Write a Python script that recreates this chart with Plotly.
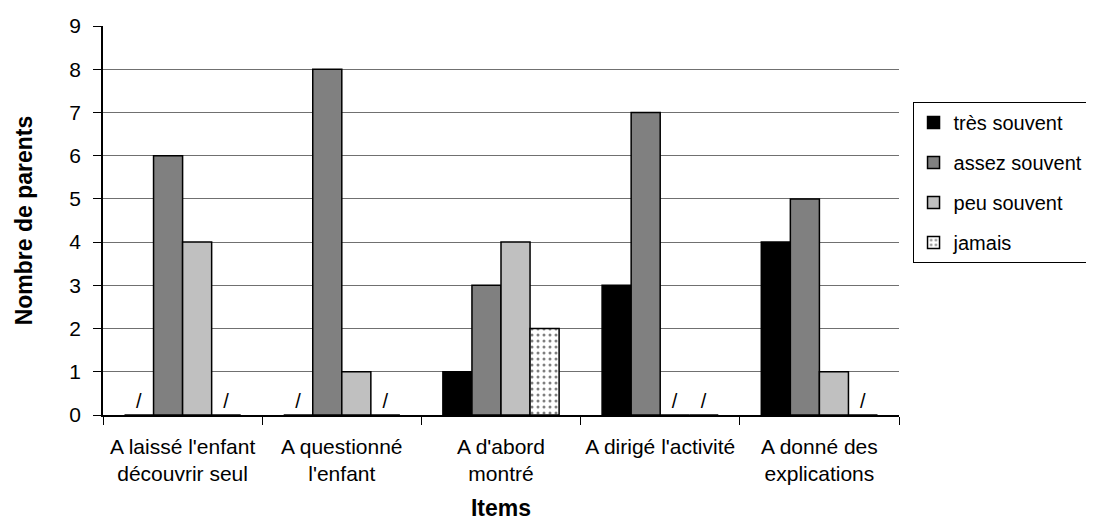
import plotly.graph_objects as go

items = ["A laissé l'enfant<br>découvrir seul", "A questionné<br>l'enfant", "A d'abord<br>montré",
         "A dirigé l'activité", "A donné des<br>explications"]
tres_souvent = [0, 0, 1, 3, 4]
assez_souvent = [6, 8, 3, 7, 5]
peu_souvent = [4, 1, 4, 0, 1]
jamais = [0, 0, 2, 0, 0]

FONT = "Liberation Sans, Arial, sans-serif"

series = [("très souvent", tres_souvent, dict(color="#000000")),
          ("assez souvent", assez_souvent, dict(color="#808080")),
          ("peu souvent", peu_souvent, dict(color="#c0c0c0")),
          ("jamais", jamais, dict(color="#ffffff",
                                  pattern=dict(shape=".", fgcolor="#000000", bgcolor="#ffffff",
                                               size=6, solidity=0.2)))]

fig = go.Figure()
for name, values, marker in series:
    # the source sheet marks empty cells with a "/" just above the baseline
    fig.add_trace(go.Bar(x=items,
                         y=values,
                         name=name,
                         legendgroup=name,
                         marker=dict(line=dict(color="#000000", width=1.5), **marker),
                         text=["/" if v == 0 else "" for v in values],
                         textposition="outside",
                         textfont=dict(size=20, color="#000000", family=FONT),
                         cliponaxis=False))

fig.update_layout(width=1094,
                  height=525,
                  barmode="group",
                  bargap=0.27,
                  bargroupgap=0,
                  plot_bgcolor="white",
                  paper_bgcolor="white",
                  font=dict(family=FONT, size=21, color="#000000"),
                  margin=dict(l=95, r=203, t=18, b=118, autoexpand=False),
                  showlegend=True,
                  legend=dict(x=1.017, y=0.8046, xanchor="left", yanchor="top",
                              bordercolor="#000000", borderwidth=1, bgcolor="white",
                              font=dict(size=20), tracegroupgap=11,
                              itemclick=False))

fig.update_xaxes(showline=True, linecolor="#000000", linewidth=1.5,
                 ticks="outside", tickson="boundaries", ticklen=8, tickcolor="#000000",
                 tickfont=dict(size=21), tickangle=0, ticklabelstandoff=12, automargin=False,
                 title=dict(text="<b>Items</b>", font=dict(size=23), standoff=16))
fig.update_yaxes(range=[0, 9], dtick=1, showline=True, linecolor="#000000", linewidth=1.5,
                 ticks="outside", ticklen=8, tickcolor="#000000",
                 tickfont=dict(size=21), ticklabelstandoff=8, automargin=False,
                 showgrid=True, gridcolor="#707070", gridwidth=1, zeroline=False,
                 title=dict(text="<b>Nombre de parents</b>", font=dict(size=23), standoff=30))

fig.write_html("out.html")
